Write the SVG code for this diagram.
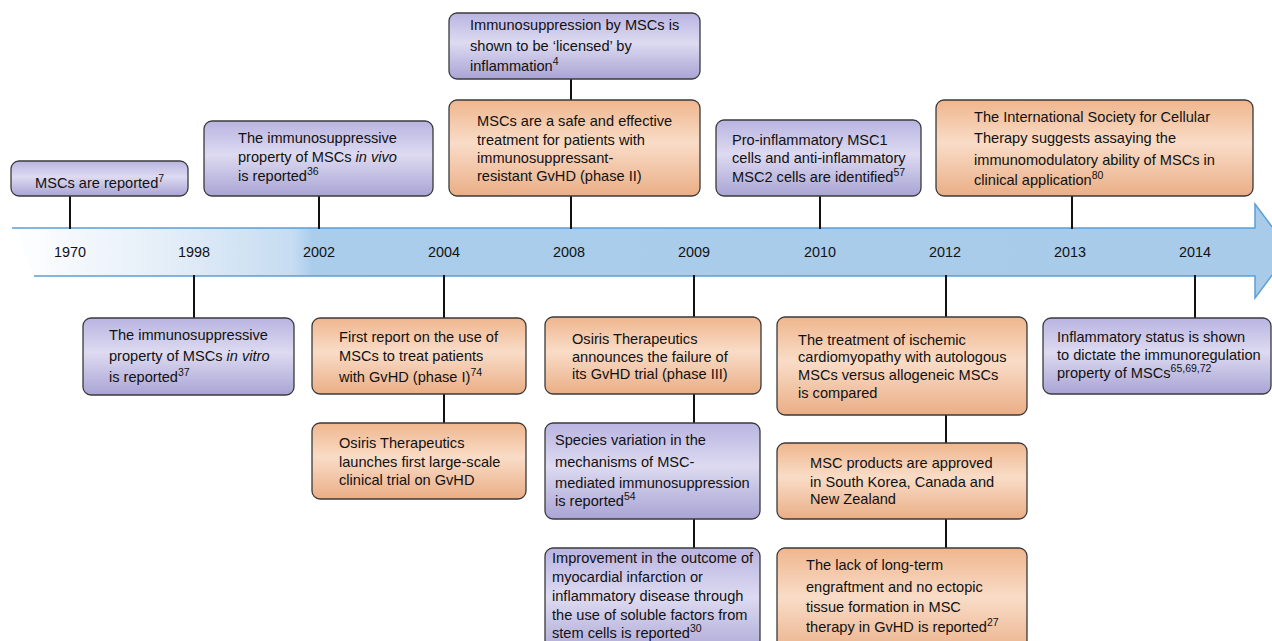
<svg xmlns="http://www.w3.org/2000/svg" width="1272" height="641" viewBox="0 0 1272 641">
<defs>
<linearGradient id="gP" x1="0" y1="0" x2="0" y2="1">
<stop offset="0" stop-color="#b9b4e1"/><stop offset="0.45" stop-color="#dddaf1"/><stop offset="1" stop-color="#a9a4d4"/>
</linearGradient>
<linearGradient id="gO" x1="0" y1="0" x2="0" y2="1">
<stop offset="0" stop-color="#efb68e"/><stop offset="0.45" stop-color="#f9dcc7"/><stop offset="1" stop-color="#eaae86"/>
</linearGradient>
<linearGradient id="gA" gradientUnits="userSpaceOnUse" x1="12" y1="0" x2="1290" y2="0">
<stop offset="0" stop-color="#ffffff"/><stop offset="0.12" stop-color="#e4eef8"/><stop offset="0.22" stop-color="#c6dcf1"/><stop offset="0.235" stop-color="#aacdec"/><stop offset="1" stop-color="#a9cbea"/>
</linearGradient>
</defs>
<style>
.p{fill:url(#gP);stroke:#3a3a3a;stroke-width:1.3}
.o{fill:url(#gO);stroke:#3a3a3a;stroke-width:1.3}
text{font-family:"Liberation Sans",Arial,sans-serif;font-size:14.6px;fill:#111}
.yr{font-size:14.4px;text-anchor:middle}
.s{font-size:10.5px}
.c{stroke:#111;stroke-width:2;fill:none}
</style>
<rect width="1272" height="641" fill="#ffffff"/>
<g id="timeline">
<path d="M12,228 L1255,228 L1255,204 L1290,251 L1255,298 L1255,276 L34,276 Z" fill="url(#gA)"/>
<path d="M12,228 L1255,228 L1255,204 L1290,251 L1255,298 L1255,276 L34,276" fill="none" stroke="#5b9fd6" stroke-width="1.5"/>
<text class="yr" x="70" y="257">1970</text>
<text class="yr" x="194" y="257">1998</text>
<text class="yr" x="319" y="257">2002</text>
<text class="yr" x="444" y="257">2004</text>
<text class="yr" x="569" y="257">2008</text>
<text class="yr" x="694" y="257">2009</text>
<text class="yr" x="820" y="257">2010</text>
<text class="yr" x="945" y="257">2012</text>
<text class="yr" x="1070" y="257">2013</text>
<text class="yr" x="1195" y="257">2014</text>
</g>
<g id="connectors">
<line class="c" x1="70" y1="196" x2="70" y2="229"/>
<line class="c" x1="319" y1="196" x2="319" y2="229"/>
<line class="c" x1="571" y1="78" x2="571" y2="100"/>
<line class="c" x1="571" y1="196" x2="571" y2="229"/>
<line class="c" x1="820" y1="196" x2="820" y2="229"/>
<line class="c" x1="1072" y1="196" x2="1072" y2="229"/>
<line class="c" x1="194" y1="275" x2="194" y2="318"/>
<line class="c" x1="444" y1="275" x2="444" y2="318"/>
<line class="c" x1="444" y1="394" x2="444" y2="423"/>
<line class="c" x1="694" y1="275" x2="694" y2="317"/>
<line class="c" x1="694" y1="394" x2="694" y2="423"/>
<line class="c" x1="694" y1="519" x2="694" y2="548"/>
<line class="c" x1="946" y1="275" x2="946" y2="317"/>
<line class="c" x1="946" y1="415" x2="946" y2="443"/>
<line class="c" x1="946" y1="519" x2="946" y2="548"/>
<line class="c" x1="1195" y1="275" x2="1195" y2="318"/>
</g>
<g id="n1970">
<rect class="p" x="11" y="161" width="177" height="35" rx="8"/>
<text x="35" y="188">MSCs are reported<tspan class="s" dy="-6">7</tspan></text>
</g>
<g id="n2002">
<rect class="p" x="204" y="121" width="229" height="75" rx="8"/>
<text x="238" y="143">The immunosuppressive</text>
<text x="238" y="162">property of MSCs <tspan font-style="italic">in vivo</tspan></text>
<text x="238" y="181">is reported<tspan class="s" dy="-6">36</tspan></text>
</g>
<g id="n2008a">
<rect class="p" x="449" y="13" width="251" height="66" rx="8"/>
<text x="470" y="30">Immunosuppression by MSCs is</text>
<text x="470" y="51">shown to be ‘licensed’ by</text>
<text x="470" y="71">inflammation<tspan class="s" dy="-6">4</tspan></text>
</g>
<g id="n2008b">
<rect class="o" x="449" y="100" width="251" height="96" rx="8"/>
<text x="477" y="126">MSCs are a safe and effective</text>
<text x="477" y="145">treatment for patients with</text>
<text x="477" y="163">immunosuppressant-</text>
<text x="477" y="181">resistant GvHD (phase II)</text>
</g>
<g id="n2010">
<rect class="p" x="716" y="120" width="205" height="76" rx="8"/>
<text x="732" y="145">Pro-inflammatory MSC1</text>
<text x="732" y="163">cells and anti-inflammatory</text>
<text x="732" y="182">MSC2 cells are identified<tspan class="s" dy="-6">57</tspan></text>
</g>
<g id="n2013">
<rect class="o" x="936" y="100" width="317" height="96" rx="8"/>
<text x="974" y="122">The International Society for Cellular</text>
<text x="974" y="143">Therapy suggests assaying the</text>
<text x="974" y="165">immunomodulatory ability of MSCs in</text>
<text x="974" y="185">clinical application<tspan class="s" dy="-6">80</tspan></text>
</g>
<g id="n1998">
<rect class="p" x="83" y="318" width="211" height="77" rx="8"/>
<text x="109" y="340">The immunosuppressive</text>
<text x="109" y="361">property of MSCs <tspan font-style="italic">in vitro</tspan></text>
<text x="109" y="382">is reported<tspan class="s" dy="-6">37</tspan></text>
</g>
<g id="n2004a">
<rect class="o" x="312" y="318" width="214" height="76" rx="8"/>
<text x="339" y="342">First report on the use of</text>
<text x="339" y="361">MSCs to treat patients</text>
<text x="339" y="382">with GvHD (phase I)<tspan class="s" dy="-6">74</tspan></text>
</g>
<g id="n2004b">
<rect class="o" x="312" y="423" width="214" height="76" rx="8"/>
<text x="339" y="448">Osiris Therapeutics</text>
<text x="339" y="467">launches first large-scale</text>
<text x="339" y="485">clinical trial on GvHD</text>
</g>
<g id="n2009a">
<rect class="o" x="545" y="317" width="216" height="77" rx="8"/>
<text x="572" y="344">Osiris Therapeutics</text>
<text x="572" y="362">announces the failure of</text>
<text x="572" y="379">its GvHD trial (phase III)</text>
</g>
<g id="n2009b">
<rect class="p" x="545" y="423" width="215" height="96" rx="8"/>
<text x="555" y="445">Species variation in the</text>
<text x="555" y="467">mechanisms of MSC-</text>
<text x="555" y="488">mediated immunosuppression</text>
<text x="555" y="506">is reported<tspan class="s" dy="-6">54</tspan></text>
</g>
<g id="n2009c">
<rect class="p" x="545" y="548" width="215" height="110" rx="8"/>
<text x="552" y="563">Improvement in the outcome of</text>
<text x="552" y="582">myocardial infarction or</text>
<text x="552" y="601">inflammatory disease through</text>
<text x="552" y="620">the use of soluble factors from</text>
<text x="552" y="638">stem cells is reported<tspan class="s" dy="-6">30</tspan></text>
</g>
<g id="n2012a">
<rect class="o" x="777" y="317" width="250" height="98" rx="8"/>
<text x="798" y="345">The treatment of ischemic</text>
<text x="798" y="362">cardiomyopathy with autologous</text>
<text x="798" y="380">MSCs versus allogeneic MSCs</text>
<text x="798" y="398">is compared</text>
</g>
<g id="n2012b">
<rect class="o" x="777" y="443" width="250" height="76" rx="8"/>
<text x="810" y="468">MSC products are approved</text>
<text x="810" y="487">in South Korea, Canada and</text>
<text x="810" y="504">New Zealand</text>
</g>
<g id="n2012c">
<rect class="o" x="777" y="548" width="250" height="110" rx="8"/>
<text x="806" y="570">The lack of long-term</text>
<text x="806" y="592">engraftment and no ectopic</text>
<text x="806" y="612">tissue formation in MSC</text>
<text x="806" y="632">therapy in GvHD is reported<tspan class="s" dy="-6">27</tspan></text>
</g>
<g id="n2014">
<rect class="p" x="1043" y="318" width="228" height="76" rx="8"/>
<text x="1057" y="342">Inflammatory status is shown</text>
<text x="1057" y="360">to dictate the immunoregulation</text>
<text x="1057" y="378">property of MSCs<tspan class="s" dy="-6">65,69,72</tspan></text>
</g>
</svg>
